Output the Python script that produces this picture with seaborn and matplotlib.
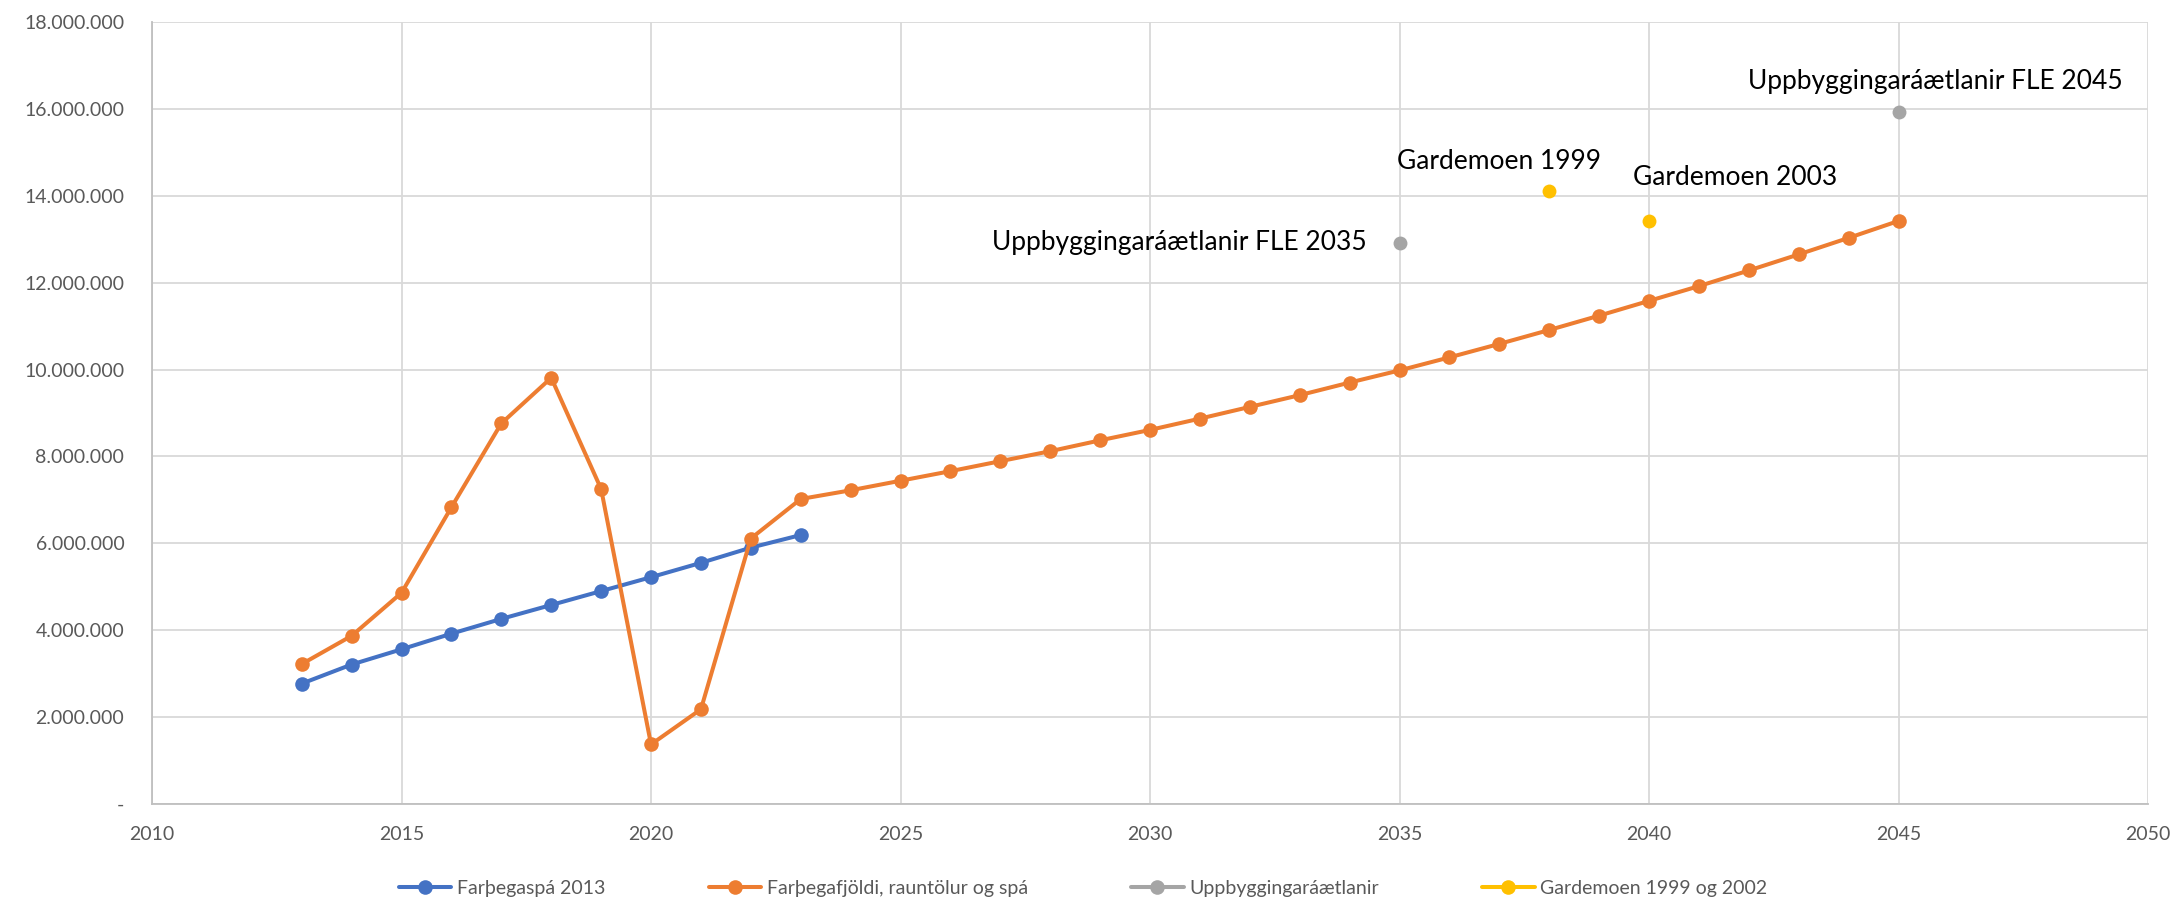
import matplotlib
matplotlib.use("Agg")
import matplotlib.pyplot as plt
from matplotlib.lines import Line2D
from matplotlib.ticker import FuncFormatter
import seaborn as sns
import numpy as np

# farþegaspá 2013 (blue)
years_spa = list(range(2013, 2024))
spa_2013 = [2.77, 3.21, 3.56, 3.92, 4.26, 4.58, 4.90, 5.22, 5.55, 5.90, 6.19]

# rauntölur og spá (orange)
years_raun = list(range(2013, 2046))
raun_spa = [3.22, 3.87, 4.86, 6.83, 8.76, 9.81, 7.25, 1.37, 2.18, 6.11, 7.02,
            7.22, 7.44, 7.66, 7.89, 8.12, 8.37, 8.61, 8.87, 9.14, 9.41, 9.70,
            9.98, 10.28, 10.59, 10.91, 11.24, 11.58, 11.92, 12.28, 12.65, 13.03, 13.42]

# uppbyggingaráætlanir (grey)
years_fle = [2035, 2045]
fle = [12.92, 15.92]
fle_labels = ["Uppbyggingaráætlanir FLE 2035", "Uppbyggingaráætlanir FLE 2045"]

# gardemoen (yellow)
years_gard = [2038, 2040]
gard = [14.11, 13.41]
gard_labels = ["Gardemoen 1999", "Gardemoen 2003"]

legend_names = ["Farþegaspá 2013", "Farþegafjöldi, rauntölur og spá",
                "Uppbyggingaráætlanir", "Gardemoen 1999 og 2002"]

c_blue, c_orange, c_grey, c_yellow = "#4472C4", "#ED7D31", "#A5A5A5", "#FFC000"
txt_grey = "#595959"

sns.set_style("white")
plt.rcParams['font.family'] = ['Lato', 'DejaVu Sans']

fig, ax = plt.subplots(figsize=(21.75, 9.01), dpi=100)
fig.subplots_adjust(left=0.0699, right=0.9876, top=0.9756, bottom=0.1077)

M = 1e6
sns.lineplot(x=years_spa, y=np.array(spa_2013) * M, ax=ax, color=c_blue,
             linewidth=2.9, marker="o", markersize=10.5, markeredgewidth=0, zorder=4)
sns.lineplot(x=years_raun, y=np.array(raun_spa) * M, ax=ax, color=c_orange,
             linewidth=2.9, marker="o", markersize=10.5, markeredgewidth=0, zorder=5)
sns.scatterplot(x=years_fle, y=np.array(fle) * M, ax=ax, color=c_grey,
                s=100, linewidth=0, zorder=6)
sns.scatterplot(x=years_gard, y=np.array(gard) * M, ax=ax, color=c_yellow,
                s=100, linewidth=0, zorder=6)

# data labels, moved by hand like in the original
offs_fle = [(-33, 0, "right"), (37, 31, "center")]
for x, y, lab, (dx, dy, ha) in zip(years_fle, fle, fle_labels, offs_fle):
    ax.annotate(lab, (x, y * M), xytext=(dx, dy), textcoords="offset pixels",
                ha=ha, va="center", fontsize=19, color="black")
offs_gard = [(-50, 29), (86, 44)]
for x, y, lab, (dx, dy) in zip(years_gard, gard, gard_labels, offs_gard):
    ax.annotate(lab, (x, y * M), xytext=(dx, dy), textcoords="offset pixels",
                ha="center", va="center", fontsize=19, color="black")

ax.set_xlim(2010, 2050)
ax.set_ylim(0, 18e6)
ax.set_xticks(range(2010, 2051, 5))
ax.set_yticks(np.arange(0, 18.1e6, 2e6))
ax.yaxis.set_major_formatter(FuncFormatter(
    lambda v, p: "-" if v == 0 else f"{int(v):,}".replace(",", ".")))
ax.grid(True, color="#D9D9D9", linewidth=1.3)
ax.set_axisbelow(True)
for s in ["top", "right"]:
    ax.spines[s].set_visible(False)
for s in ["left", "bottom"]:
    ax.spines[s].set_color("#BFBFBF")
    ax.spines[s].set_linewidth(1.3)
ax.tick_params(length=0, labelsize=14, colors=txt_grey)
ax.tick_params(axis="y", pad=20)
ax.tick_params(axis="x", pad=16)
ax.set_xlabel("")
ax.set_ylabel("")

handles = [Line2D([], [], color=c, linewidth=2.9, marker="o", markersize=10.5,
                  markeredgewidth=0) for c in [c_blue, c_orange, c_grey, c_yellow]]
fig.legend(handles, legend_names, loc="center", bbox_to_anchor=(0.498, 0.0144),
           ncol=4, frameon=False, fontsize=14, labelcolor=txt_grey,
           handlelength=2.7, handletextpad=0.3, columnspacing=5.3)

fig.savefig("out.png", dpi=100)
